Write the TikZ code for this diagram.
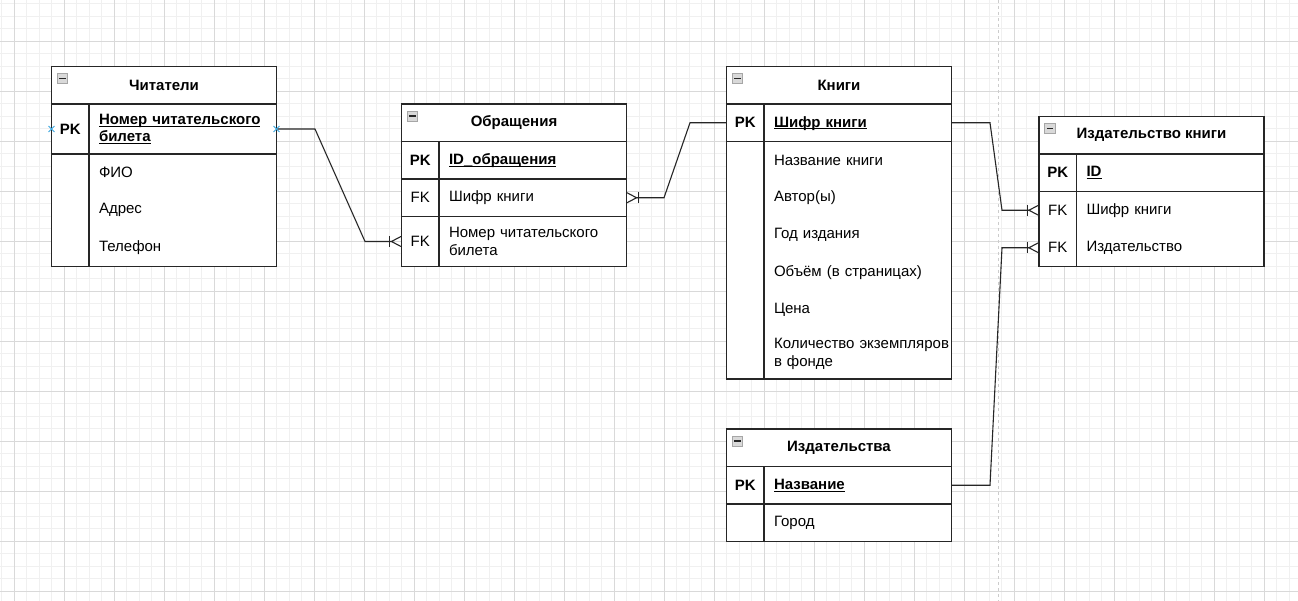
\documentclass[tikz,border=0pt]{standalone}
\usepackage{fontspec}
\setmainfont{Liberation Sans}
\usetikzlibrary{arrows.meta,shapes.misc}

\definecolor{ink}{HTML}{262626}
\definecolor{pinblue}{HTML}{3AA7E0}

\newcommand{\tabfont}{\fontsize{15}{17.5}\selectfont}
\newcommand{\pkline}[1]{\underline{\raisebox{0pt}[\height][0pt]{#1}}}

\tikzset{
  crow/.tip={Bar[width=11pt,sep=0pt] Straight Barb[reversed,length=9.5pt,width=10pt]},
  tbl/.style={draw=ink, line width=1.2pt},
  rel/.style={draw=ink, line width=1.1pt, -{crow}},
  head/.style={draw=ink, fill=white, line width=1.2pt, anchor=north west, outer sep=0pt,
    minimum width=225pt, minimum height=37.5pt, inner sep=0pt, font=\tabfont\bfseries},
  key/.style={fill=white, anchor=north west, minimum width=37.5pt, outer sep=0pt,
    minimum height=37.5pt, inner sep=0pt, font=\tabfont},
  fld/.style={fill=white, anchor=north west, text width=167.5pt, inner xsep=10pt,
    outer sep=0pt, inner ysep=0pt, minimum height=37.5pt, align=left, font=\tabfont},
  tall/.style={minimum height=50pt},
  pk/.style={font=\tabfont\bfseries},
  icon/.style={draw=gray!70, fill=gray!30, line width=0.7pt, minimum width=10.5pt,
    minimum height=10pt, inner sep=0pt, outer sep=0pt,
    path picture={\draw[ink, line width=1.4pt] ([xshift=2pt]path picture bounding box.west)
      -- ([xshift=-2pt]path picture bounding box.east);}},
  pin/.style={cross out, draw=pinblue, line width=0.9pt, minimum size=5pt, inner sep=0pt}
}

\begin{document}
\begin{tikzpicture}[x=1pt, y=-1pt]
  \useasboundingbox (0,0) rectangle (1298,601);
  \clip (0,0) rectangle (1298,601);
  \fill[white] (0,0) rectangle (1298,601);

  % grid
  \begin{scope}[xshift=1.5pt, yshift=-3.5pt]
    \draw[gray!12, line width=0.8pt, step=12.5pt] (-12.5,-12.5) grid (1312.5,612.5);
  \end{scope}
  \begin{scope}[xshift=14pt, yshift=-41pt]
    \draw[gray!30, line width=0.8pt, step=50pt] (-50,-50) grid (1300,600);
  \end{scope}
  \draw[gray!40, line width=1pt, dash pattern=on 3pt off 3pt] (998,0) -- (998,601);

  % Читатели
  \node[head] (chit) at (51.5,66.5) {Читатели};
  \node[key,tall,pk] (chit-k1) at (51.5,104) {PK};
  \node[fld,tall,pk] (chit-f1) at (89,104) {\pkline{Номер читательского}\\\pkline{билета}};
  \node[key] (chit-k2) at (51.5,154) {};
  \node[fld] (chit-f2) at (89,154) {ФИО};
  \node[key] (chit-k3) at (51.5,191.5) {};
  \node[fld] (chit-f3) at (89,191.5) {Адрес};
  \node[key] (chit-k4) at (51.5,229) {};
  \node[fld] (chit-f4) at (89,229) {Телефон};
  \draw[tbl] (chit.south west) rectangle (chit-f4.south east);
  \draw[tbl] (chit-k1.north east) -- (chit-k4.south east);
  \draw[tbl] (chit-k1.south west) -- (chit-f1.south east);
  \node[icon] (chit-ic) at ([shift={(11pt,-12pt)}]chit.north west) {};

  % Обращения
  \node[head] (obr) at (401.5,104) {Обращения};
  \node[key,pk] (obr-k1) at (401.5,141.5) {PK};
  \node[fld,pk] (obr-f1) at (439,141.5) {\pkline{ID\_обращения}};
  \node[key] (obr-k2) at (401.5,179) {FK};
  \node[fld] (obr-f2) at (439,179) {Шифр книги};
  \node[key,tall] (obr-k3) at (401.5,216.5) {FK};
  \node[fld,tall] (obr-f3) at (439,216.5) {Номер читательского\\билета};
  \draw[tbl] (obr.south west) rectangle (obr-f3.south east);
  \draw[tbl] (obr-k1.north east) -- (obr-k3.south east);
  \draw[tbl] (obr-k1.south west) -- (obr-f1.south east);
  \draw[tbl] (obr-k2.south west) -- (obr-f2.south east);
  \node[icon] (obr-ic) at ([shift={(11pt,-12pt)}]obr.north west) {};

  % Книги
  \node[head] (knigi) at (726.5,66.5) {Книги};
  \node[key,pk] (knigi-k1) at (726.5,104) {PK};
  \node[fld,pk] (knigi-f1) at (764,104) {\pkline{Шифр книги}};
  \node[key] (knigi-k2) at (726.5,141.5) {};
  \node[fld] (knigi-f2) at (764,141.5) {Название книги};
  \node[key] (knigi-k3) at (726.5,179) {};
  \node[fld] (knigi-f3) at (764,179) {Автор(ы)};
  \node[key] (knigi-k4) at (726.5,216.5) {};
  \node[fld] (knigi-f4) at (764,216.5) {Год издания};
  \node[key] (knigi-k5) at (726.5,254) {};
  \node[fld] (knigi-f5) at (764,254) {Объём (в страницах)};
  \node[key] (knigi-k6) at (726.5,291.5) {};
  \node[fld] (knigi-f6) at (764,291.5) {Цена};
  \node[key,tall] (knigi-k7) at (726.5,329) {};
  \node[fld,tall] (knigi-f7) at (764,329) {\mbox{Количество экземпляров}\\в фонде};
  \draw[tbl] (knigi.south west) rectangle (knigi-f7.south east);
  \draw[tbl] (knigi-k1.north east) -- (knigi-k7.south east);
  \draw[tbl] (knigi-k1.south west) -- (knigi-f1.south east);
  \node[icon] (knigi-ic) at ([shift={(11pt,-12pt)}]knigi.north west) {};

  % Издательство книги
  \node[head] (izk) at (1039,116.5) {Издательство книги};
  \node[key,pk] (izk-k1) at (1039,154) {PK};
  \node[fld,pk] (izk-f1) at (1076.5,154) {\pkline{ID}};
  \node[key] (izk-k2) at (1039,191.5) {FK};
  \node[fld] (izk-f2) at (1076.5,191.5) {Шифр книги};
  \node[key] (izk-k3) at (1039,229) {FK};
  \node[fld] (izk-f3) at (1076.5,229) {Издательство};
  \draw[tbl] (izk.south west) rectangle (izk-f3.south east);
  \draw[tbl] (izk-k1.north east) -- (izk-k3.south east);
  \draw[tbl] (izk-k1.south west) -- (izk-f1.south east);
  \node[icon] (izk-ic) at ([shift={(11pt,-12pt)}]izk.north west) {};

  % Издательства
  \node[head] (izd) at (726.5,429) {Издательства};
  \node[key,pk] (izd-k1) at (726.5,466.5) {PK};
  \node[fld,pk] (izd-f1) at (764,466.5) {\pkline{Название}};
  \node[key] (izd-k2) at (726.5,504) {};
  \node[fld] (izd-f2) at (764,504) {Город};
  \draw[tbl] (izd.south west) rectangle (izd-f2.south east);
  \draw[tbl] (izd-k1.north east) -- (izd-k2.south east);
  \draw[tbl] (izd-k1.south west) -- (izd-f1.south east);
  \node[icon] (izd-ic) at ([shift={(11pt,-12pt)}]izd.north west) {};

  % links
  \draw[rel] (chit-f1.east) -- ++(38.5,0) -- ([xshift=-36.5pt]obr-k3.west) -- (obr-k3.west);
  \draw[rel] (knigi-k1.west) -- ++(-36.5,0) -- ([xshift=37.5pt]obr-f2.east) -- (obr-f2.east);
  \draw[rel] (knigi-f1.east) -- ++(38.5,0) -- ([xshift=-37pt]izk-k2.west) -- (izk-k2.west);
  \draw[rel] (izd-f1.east) -- ++(38.5,0) -- ([xshift=-37pt]izk-k3.west) -- (izk-k3.west);

  \node[pin] (chit-pl) at (chit-k1.west) {};
  \node[pin] (chit-pr) at (chit-f1.east) {};
\end{tikzpicture}
\end{document}
